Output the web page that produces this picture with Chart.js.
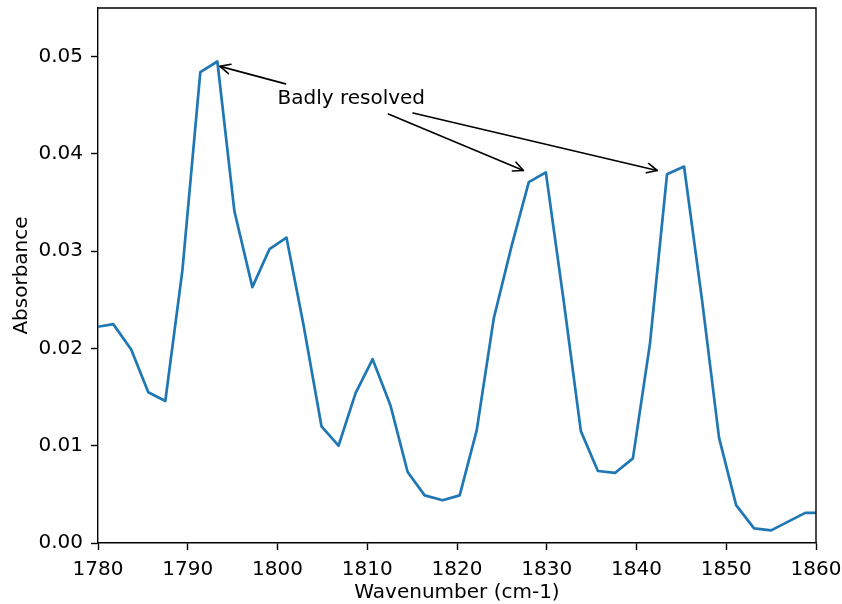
<!DOCTYPE html>
<html>
<head>
<meta charset="utf-8">
<title>Absorbance spectrum</title>
<script src="https://cdn.jsdelivr.net/npm/chart.js@4/dist/chart.umd.min.js"></script>
<style>
  html, body { margin: 0; padding: 0; background: #ffffff; }
  #wrap { width: 842px; height: 604px; }
</style>
</head>
<body>
<div id="wrap"><canvas id="chart" width="842" height="604"></canvas></div>
<script>
// Wavenumber sampling (cm-1)
const wavenumbers = [
  1779.8, 1781.7, 1783.7, 1785.6, 1787.5, 1789.4, 1791.4, 1793.3, 1795.2, 1797.2,
  1799.1, 1801.0, 1802.9, 1804.9, 1806.8, 1808.7, 1810.6, 1812.6, 1814.5, 1816.4,
  1818.4, 1820.3, 1822.2, 1824.1, 1826.1, 1828.0, 1829.9, 1831.9, 1833.8, 1835.7,
  1837.6, 1839.6, 1841.5, 1843.4, 1845.3, 1847.3, 1849.2, 1851.1, 1853.1, 1855.0,
  1856.9, 1858.8, 1860.8
];

// Measured absorbance at each wavenumber
const absorbance = [
  0.0222, 0.0225, 0.0199, 0.0155, 0.0146, 0.0280, 0.0484, 0.0495, 0.0341, 0.0263,
  0.0302, 0.0314, 0.0224, 0.0120, 0.0100, 0.0154, 0.0189, 0.0141, 0.0073, 0.0049,
  0.0044, 0.0049, 0.0116, 0.0231, 0.0306, 0.0371, 0.0381, 0.0248, 0.0115, 0.0074,
  0.0072, 0.0087, 0.0205, 0.0379, 0.0387, 0.0250, 0.0108, 0.0039, 0.0015, 0.0013,
  0.0022, 0.0031, 0.0031
];

// Axis ticks
const xTicks = [1780, 1790, 1800, 1810, 1820, 1830, 1840, 1850, 1860];
const yTicks = [0.00, 0.01, 0.02, 0.03, 0.04, 0.05];

// Annotation: label anchor and arrow (tail -> head) in data units
const noteText = 'Badly resolved';
const noteAnchor = [1800.0, 0.0451];
const arrowTails = [[1800.9, 0.0472], [1812.35, 0.0441], [1815.1, 0.0442]];
const arrowHeads = [[1793.6, 0.0490], [1827.4, 0.0383], [1842.3, 0.0383]];

const FONT = 'DejaVu Sans';
const FS = 20;
Chart.defaults.font.family = FONT;
Chart.defaults.color = '#000000';

const frame = {
  id: 'frame',
  afterDraw(chart) {
    const { ctx, chartArea: a } = chart;
    ctx.save();
    ctx.strokeStyle = '#000000';
    ctx.lineWidth = 1.4;
    ctx.beginPath();
    ctx.moveTo(a.left, a.top);
    ctx.lineTo(a.right, a.top);
    ctx.lineTo(a.right, a.bottom);
    ctx.stroke();
    ctx.restore();
  }
};

const annotate = {
  id: 'annotate',
  afterDraw(chart) {
    const { ctx, scales: { x, y } } = chart;
    ctx.save();
    ctx.fillStyle = '#000000';
    ctx.font = FS + 'px "' + FONT + '"';
    ctx.textAlign = 'left';
    ctx.textBaseline = 'alphabetic';
    ctx.fillText(noteText, x.getPixelForValue(noteAnchor[0]), y.getPixelForValue(noteAnchor[1]));

    ctx.strokeStyle = '#000000';
    ctx.lineWidth = 1.6;
    ctx.lineCap = 'round';
    ctx.lineJoin = 'round';
    const headLen = 10, headHalf = 4.8;
    for (let i = 0; i < arrowTails.length; i++) {
      const x0 = x.getPixelForValue(arrowTails[i][0]);
      const y0 = y.getPixelForValue(arrowTails[i][1]);
      const x1 = x.getPixelForValue(arrowHeads[i][0]);
      const y1 = y.getPixelForValue(arrowHeads[i][1]);
      const ang = Math.atan2(y1 - y0, x1 - x0);
      const c = Math.cos(ang), s = Math.sin(ang);
      ctx.beginPath();
      ctx.moveTo(x0, y0);
      ctx.lineTo(x1, y1);
      ctx.stroke();
      ctx.beginPath();
      ctx.moveTo(x1 - headLen * c - headHalf * s, y1 - headLen * s + headHalf * c);
      ctx.lineTo(x1, y1);
      ctx.lineTo(x1 - headLen * c + headHalf * s, y1 - headLen * s - headHalf * c);
      ctx.stroke();
    }
    ctx.restore();
  }
};

new Chart(document.getElementById('chart'), {
  type: 'line',
  data: {
    datasets: [{
      data: wavenumbers.map((w, i) => ({ x: w, y: absorbance[i] })),
      borderColor: '#1f77b4',
      borderWidth: 2.7,
      pointRadius: 0,
      tension: 0,
      fill: false,
      borderJoinStyle: 'round',
      borderCapStyle: 'butt',
      clip: 0
    }]
  },
  options: {
    responsive: false,
    devicePixelRatio: 1,
    animation: false,
    layout: { padding: { top: 8, right: 26, left: 0, bottom: 0 } },
    plugins: { legend: { display: false }, tooltip: { enabled: false } },
    scales: {
      x: {
        type: 'linear',
        min: xTicks[0],
        max: xTicks[xTicks.length - 1],
        afterBuildTicks(scale) { scale.ticks = xTicks.map(v => ({ value: v })); },
        afterFit(scale) {
          scale.height = 61;
          scale.paddingLeft = 0;
          scale.paddingRight = 0;
        },
        ticks: {
          font: { size: FS },
          color: '#000000',
          padding: 8,
          maxRotation: 0,
          callback: v => String(v)
        },
        grid: {
          display: true,
          drawOnChartArea: false,
          drawTicks: true,
          tickLength: 7,
          tickWidth: 1.4,
          tickColor: '#000000'
        },
        border: { display: true, color: '#000000', width: 1.4 },
        title: {
          display: true,
          text: 'Wavenumber (cm-1)',
          font: { size: FS },
          color: '#000000',
          padding: { top: 0, bottom: -1 }
        }
      },
      y: {
        type: 'linear',
        min: 0,
        max: 0.055,
        afterBuildTicks(scale) { scale.ticks = yTicks.map(v => ({ value: v })); },
        afterFit(scale) {
          scale.width = 98;
          scale.paddingTop = 0;
          scale.paddingBottom = 0;
        },
        ticks: {
          font: { size: FS },
          color: '#000000',
          padding: 8,
          callback: v => Number(v).toFixed(2)
        },
        grid: {
          display: true,
          drawOnChartArea: false,
          drawTicks: true,
          tickLength: 7,
          tickWidth: 1.4,
          tickColor: '#000000'
        },
        border: { display: true, color: '#000000', width: 1.4 },
        title: {
          display: true,
          text: 'Absorbance',
          font: { size: FS },
          color: '#000000',
          padding: { top: 10, bottom: 0 }
        }
      }
    }
  },
  plugins: [frame, annotate]
});
</script>
</body>
</html>
